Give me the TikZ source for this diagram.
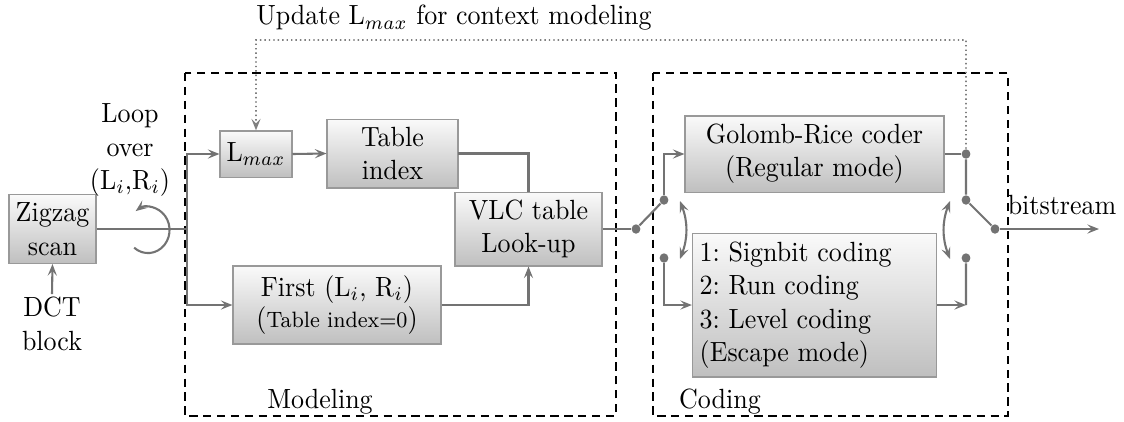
\documentclass[tikz,border=0pt]{standalone}
\usetikzlibrary{arrows.meta}
\begin{document}
\frenchspacing
\begin{tikzpicture}[x=0.385pt,y=-0.36pt,
  tip/.tip={Stealth[length=4.2pt,width=3.3pt,inset=1.7pt]},
  conn/.style={draw=black!55, line width=0.75pt},
  arr/.style={conn, -tip},
  arrboth/.style={conn, tip-tip},
  block/.style={draw=black!40, top color=black!2, bottom color=black!25,
    inner sep=1pt, align=center, font=\fontsize{10}{12}\selectfont},
  dotnode/.style={circle, fill=black!55, inner sep=0pt, minimum size=3.4pt},
  region/.style={draw=black, line width=0.8pt, dash pattern=on 3pt off 2pt},
  feedback/.style={draw=black!50, line width=0.6pt, dash pattern=on 0.5pt off 1.1pt},
  lbl/.style={align=center, inner sep=1pt}]
\begin{scope}[xscale=0.935, transform shape]

\useasboundingbox (0,0) rectangle (1124,421);

% processing regions
\draw[region] (185,73) rectangle (616,416);
\draw[region] (653,73) rectangle (1008,416);
\node[lbl] (modlbl) at (320,402) {Modeling};
\node[lbl] (codlbl) at (720,402) {Coding};

% blocks
\node[block, minimum width=33.5pt, minimum height=24.8pt] (zz) at (52.5,229) {Zigzag\\scan};
\node[block, minimum width=27.7pt, minimum height=16.6pt] (lmax) at (256,154) {L$_{max}$};
\node[block, minimum width=50.4pt, minimum height=24.8pt] (tab) at (392.5,153.5) {Table\\index};
\node[block, minimum width=56.6pt, minimum height=26.6pt] (vlc) at (528.5,229) {VLC table\\Look-up};
\node[block, minimum width=80.1pt, minimum height=28.1pt] (first) at (337,305)
  {First (L$_i$, R$_i$)\\[-1pt](\footnotesize Table index$=$0\normalsize)};
\node[block, minimum width=99.7pt, minimum height=27.4pt] (gr) at (814.5,154)
  {Golomb-Rice coder\\(Regular mode)};
\node[block, minimum height=51.8pt, text width=88.4pt, inner xsep=2.8pt, align=left] (esc) at (814.5,305)
  {1: Signbit coding\\2: Run coding\\3: Level coding\\(Escape mode)};

% labels
\node[lbl] (loop) at (130,150) {Loop\\over\\(L$_i$,R$_i$)};
\node[lbl] (dct) at (52,324) {DCT\\block};
\node[lbl] (upd) at (454,18) {Update L$_{max}$ for context modeling};
\node[lbl] (bs) at (1062,205) {bitstream};

% switch contacts
\node[dotnode] (s0) at (636,229) {};
\node[dotnode] (s1) at (664,200) {};
\node[dotnode] (s2) at (664,258) {};
\node[dotnode] (r0) at (966,154) {};
\node[dotnode] (r1) at (966,200) {};
\node[dotnode] (r2) at (966,258) {};
\node[dotnode] (r3) at (995,229) {};

\coordinate (split) at (187,229);
\coordinate (rc) at (966,305);
\coordinate (fb) at (966,40);
\coordinate (out) at (1099,229);
\coordinate (loopc) at (148,230);

% input side
\draw[arr] (dct.north) -- (zz.south);
\draw[conn] (zz.east) -- (split);
\draw[arr] (loopc) ++(-130:8.3pt) arc[start angle=-130, end angle=125, radius=8.3pt];
\draw[arr] (split) |- (lmax.west);
\draw[arr] (split) |- (first.west);

% modeling
\draw[arr] (lmax.east) -- (tab.west);
\draw[conn] (tab.east) -| (vlc.north);
\draw[arr] (first.east) -| (vlc.south);
\draw[conn] (vlc.east) -- (s0);

% coding switches
\draw[conn] (s0) -- (s1);
\draw[arr] (s1) |- (gr.west);
\draw[arr] (s2) |- (esc.west);
\draw[conn] (gr.east) -- (r0);
\draw[conn] (r0) -- (r1);
\draw[conn] (r1) -- (r3);
\draw[arr] (esc.east) -- (rc);
\draw[conn] (rc) -- (r2);
\draw[arr] (r3) -- (out);

% mode selection
\coordinate (la) at (680,201);
\coordinate (lb) at (680,259);
\coordinate (ra) at (950,201);
\coordinate (rb) at (950,259);
\draw[arrboth] (la) to[bend left=22] (lb);
\draw[arrboth] (ra) to[bend right=22] (rb);

% context update feedback
\draw[feedback, -tip] (r0) -- (fb) -| (lmax.north);
\end{scope}
\end{tikzpicture}
\end{document}
